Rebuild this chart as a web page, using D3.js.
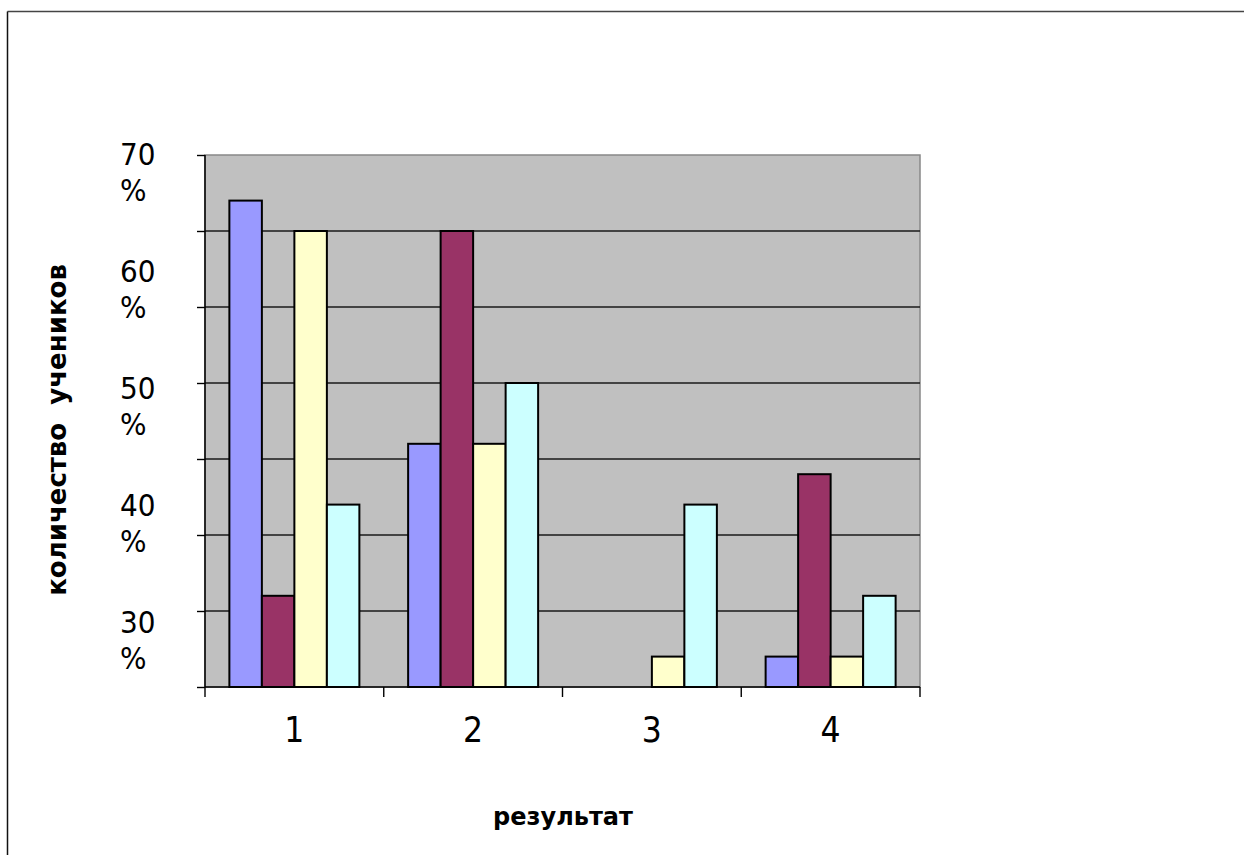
<!DOCTYPE html>
<html>
<head>
<meta charset="utf-8">
<script src="https://cdn.jsdelivr.net/npm/d3@7"></script>
<style>
body { margin: 0; background: #fff; }
</style>
</head>
<body>
<div id="canvas"></div>
<script>
// ----------------------------------------------------------
// DATA -----------------------------------------------------
// ----------------------------------------------------------
var categories = ["1", "2", "3", "4"];
var series_names = ["s1", "s2", "s3", "s4"];
var series_1 = [64, 32, 0, 4];
var series_2 = [12, 60, 0, 28];
var series_3 = [60, 32, 4, 4];
var series_4 = [24, 40, 24, 12];
var y_ticks = [0, 10, 20, 30, 40, 50, 60, 70];
var y_tick_labels = ["70", "60", "50", "40", "30"];

var data_set =
{
container_width: 1244,
container_height: 855,
plot_left: 205,
plot_top: 155,
plot_right: 920,
plot_bottom: 687,
domain_max: 70,
color_plot: "#c0c0c0",
colors: ["#9999ff", "#993366", "#ffffcc", "#ccffff"],
color_text: "#000"
};

var series_values = [series_1, series_2, series_3, series_4];

// ----------------------------------------------------------
// STRUCTURE ------------------------------------------------
// ----------------------------------------------------------
var container = d3.select("#canvas").append("svg")
.attr("width", data_set.container_width)
.attr("height", data_set.container_height)
.style("display", "block")
.style("background-color", "#fff");

var layout_group = container.append("g").attr("class", "layout_group");
var gfx_group = container.append("g").attr("class", "gfx_group");
var text_group = container.append("g").attr("class", "text_group");

// outer frame (only top and left edges are visible)
layout_group.append("line")
.attr("x1", 7.5).attr("y1", 11.5).attr("x2", data_set.container_width).attr("y2", 11.5)
.style("stroke", "#444").style("stroke-width", 1.5);
layout_group.append("line")
.attr("x1", 7.5).attr("y1", 11.5).attr("x2", 7.5).attr("y2", data_set.container_height)
.style("stroke", "#111").style("stroke-width", 1.5);

// ----------------------------------------------------------
// SCALES ---------------------------------------------------
// ----------------------------------------------------------
var xScale = d3.scaleBand()
.range([data_set.plot_left, data_set.plot_right])
.domain(categories)
.paddingInner(0)
.paddingOuter(0);

// bar width = band / (4 bars + 1.5 gap)
var xInner = d3.scaleBand()
.range([0, xScale.bandwidth()])
.domain(series_names)
.paddingInner(0)
.paddingOuter(0.75);

var yScale = d3.scaleLinear()
.domain([0, data_set.domain_max])
.range([data_set.plot_bottom, data_set.plot_top]);

// ----------------------------------------------------------
// PLOT AREA ------------------------------------------------
// ----------------------------------------------------------
layout_group.append("rect")
.attr("x", data_set.plot_left)
.attr("y", data_set.plot_top)
.attr("width", data_set.plot_right - data_set.plot_left)
.attr("height", data_set.plot_bottom - data_set.plot_top)
.style("fill", data_set.color_plot)
.style("stroke", "#888")
.style("stroke-width", 1.5);

// gridlines
layout_group.selectAll(".grid")
.data(y_ticks.slice(1, -1))
.enter()
.append("line")
.attr("class", "grid")
.attr("x1", data_set.plot_left)
.attr("x2", data_set.plot_right)
.attr("y1", (d) => yScale(d))
.attr("y2", (d) => yScale(d))
.style("stroke", "#1a1a1a")
.style("stroke-width", 1.4);

// ----------------------------------------------------------
// BARS -----------------------------------------------------
// ----------------------------------------------------------
var bar_data = [];
categories.forEach(function (c, i) {
  series_names.forEach(function (s, j) {
    bar_data.push({ cat: c, ser: s, idx: j, value: series_values[j][i] });
  });
});

gfx_group.selectAll(".gfx_bar")
.data(bar_data.filter((d) => d.value > 0))
.enter()
.append("rect")
.attr("class", "gfx_bar")
.attr("x", (d) => xScale(d.cat) + xInner(d.ser))
.attr("y", (d) => yScale(d.value))
.attr("width", xInner.bandwidth())
.attr("height", (d) => yScale(0) - yScale(d.value))
.style("fill", (d) => data_set.colors[d.idx])
.style("stroke", "#000")
.style("stroke-width", 2);

// ----------------------------------------------------------
// AXES -----------------------------------------------------
// ----------------------------------------------------------
var yAxis = d3.axisLeft(yScale).tickValues(y_ticks).tickSize(8).tickFormat("");
gfx_group.append("g")
.attr("transform", `translate(${data_set.plot_left}, 0)`)
.call(yAxis)
.call((g) => g.select(".domain").remove())
.call((g) => g.selectAll("line").style("stroke", "#000").style("stroke-width", 1.4));

gfx_group.append("line")
.attr("x1", data_set.plot_left).attr("x2", data_set.plot_left)
.attr("y1", data_set.plot_top).attr("y2", data_set.plot_bottom)
.style("stroke", "#000").style("stroke-width", 1.5);

// x axis ticks sit on category boundaries
var x_bounds = categories.map((c) => xScale(c)).concat([data_set.plot_right]);
gfx_group.append("line")
.attr("x1", data_set.plot_left).attr("x2", data_set.plot_right)
.attr("y1", data_set.plot_bottom).attr("y2", data_set.plot_bottom)
.style("stroke", "#000").style("stroke-width", 1.5);
gfx_group.selectAll(".xtick")
.data(x_bounds)
.enter()
.append("line")
.attr("class", "xtick")
.attr("x1", (d) => d).attr("x2", (d) => d)
.attr("y1", data_set.plot_bottom).attr("y2", data_set.plot_bottom + 10)
.style("stroke", "#000").style("stroke-width", 1.4);

// category labels
text_group.selectAll(".xlabel")
.data(categories)
.enter()
.append("text")
.attr("class", "xlabel")
.attr("x", (d) => xScale(d) + xScale.bandwidth() / 2)
.attr("y", 742)
.attr("text-anchor", "middle")
.style("font-family", "'DejaVu Sans Condensed', 'DejaVu Sans', sans-serif")
.style("font-size", "35px")
.style("fill", data_set.color_text)
.text((d) => d);

// y tick labels, wrapped onto two lines like the original
var yLabelPos = d3.scalePoint()
.domain(y_tick_labels)
.range([165, 633]);

var ylab = text_group.selectAll(".ylabel")
.data(y_tick_labels)
.enter()
.append("text")
.attr("class", "ylabel")
.attr("x", 120)
.attr("y", (d) => yLabelPos(d))
.style("font-family", "'DejaVu Sans Condensed', 'DejaVu Sans', sans-serif")
.style("font-size", "31px")
.style("fill", data_set.color_text);
ylab.append("tspan").attr("x", 120).text((d) => d);
ylab.append("tspan").attr("x", 120).attr("dy", 36).text("%");

// axis titles
text_group.append("text")
.attr("x", 563)
.attr("y", 825)
.attr("text-anchor", "middle")
.style("font-family", "'DejaVu Sans', sans-serif")
.style("font-weight", "bold")
.style("font-size", "24px")
.style("fill", data_set.color_text)
.text("результат");

text_group.append("text")
.attr("transform", "translate(66, 430) rotate(-90)")
.attr("text-anchor", "middle")
.style("font-family", "'DejaVu Sans', sans-serif")
.style("font-weight", "bold")
.style("font-size", "26px")
.style("white-space", "pre")
.style("fill", data_set.color_text)
.text("количество  учеников");
</script>
</body>
</html>
